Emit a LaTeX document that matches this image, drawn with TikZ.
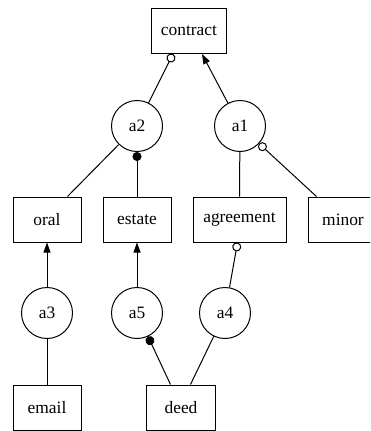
\documentclass[tikz,border=0pt]{standalone}
\usepackage{fontspec}
\setmainfont{Liberation Serif}
\newfontfamily\nodefont{Liberation Serif}
\usetikzlibrary{arrows.meta,calc}
\begin{document}
\begin{tikzpicture}[x=1pt,y=-1pt,
  every node/.style={font=\nodefont\fontsize{17.4}{20}\selectfont, inner sep=0pt, line width=1pt},
  box/.style={draw, rectangle, minimum height=45pt},
  arg/.style={draw, circle, minimum size=51pt},
  edge/.style={line width=1pt},
  tri/.style={edge, -{Triangle[length=10pt,width=7pt]}},
  odotend/.style={edge, -{Circle[open,length=9pt,width=9pt]}},
  dotend/.style={edge, -{Circle[length=9pt,width=9pt]}}]
\useasboundingbox (0,0) rectangle (370,431);
\clip (0,0) rectangle (370,431);
\fill[white] (0,0) rectangle (370,431);
% nodes
\node[box, minimum width=75pt] (contract) at (189,31) {contract};
\node[arg] (a2) at (137,126) {a2};
\node[arg] (a1) at (240,126) {a1};
\node[box, minimum width=68pt] (oral) at (47,219.5) {oral};
\node[box, minimum width=68pt] (estate) at (137,219.5) {estate};
\node[box, minimum width=93pt] (agreement) at (239.5,219.5) {agreement};
\node[box, minimum width=70pt] (minor) at (343,219.5) {minor};
\node[arg] (a3) at (47,313) {a3};
\node[arg] (a5) at (137,313) {a5};
\node[arg] (a4) at (225,313) {a4};
\node[box, minimum width=68pt] (email) at (47,407.5) {email};
\node[box, minimum width=69pt] (deed) at (181,407.5) {deed};
% edges
\draw[odotend] (a2) -- ($(contract.south west)+(22,0)$);
\draw[tri] (a1) -- ($(contract.south west)+(51,0)$);
\draw[edge] ($(oral.north west)+(55,0)$) -- (a2);
\draw[dotend] (estate.north) -- (a2.south);
\draw[edge] (agreement.north) -- (a1);
\draw[odotend] ($(minor.north west)+(9,0)$) -- (a1);
\draw[tri] (a3.north) -- (oral.south);
\draw[tri] (a5.north) -- (estate.south);
\draw[odotend] (a4) -- ($(agreement.south west)+(45,0)$);
\draw[dotend] ($(deed.north west)+(24.5,0)$) -- (a5);
\draw[edge] ($(deed.north west)+(44.5,0)$) -- (a4);
\draw[edge] (email.north) -- (a3.south);
\end{tikzpicture}
\end{document}
